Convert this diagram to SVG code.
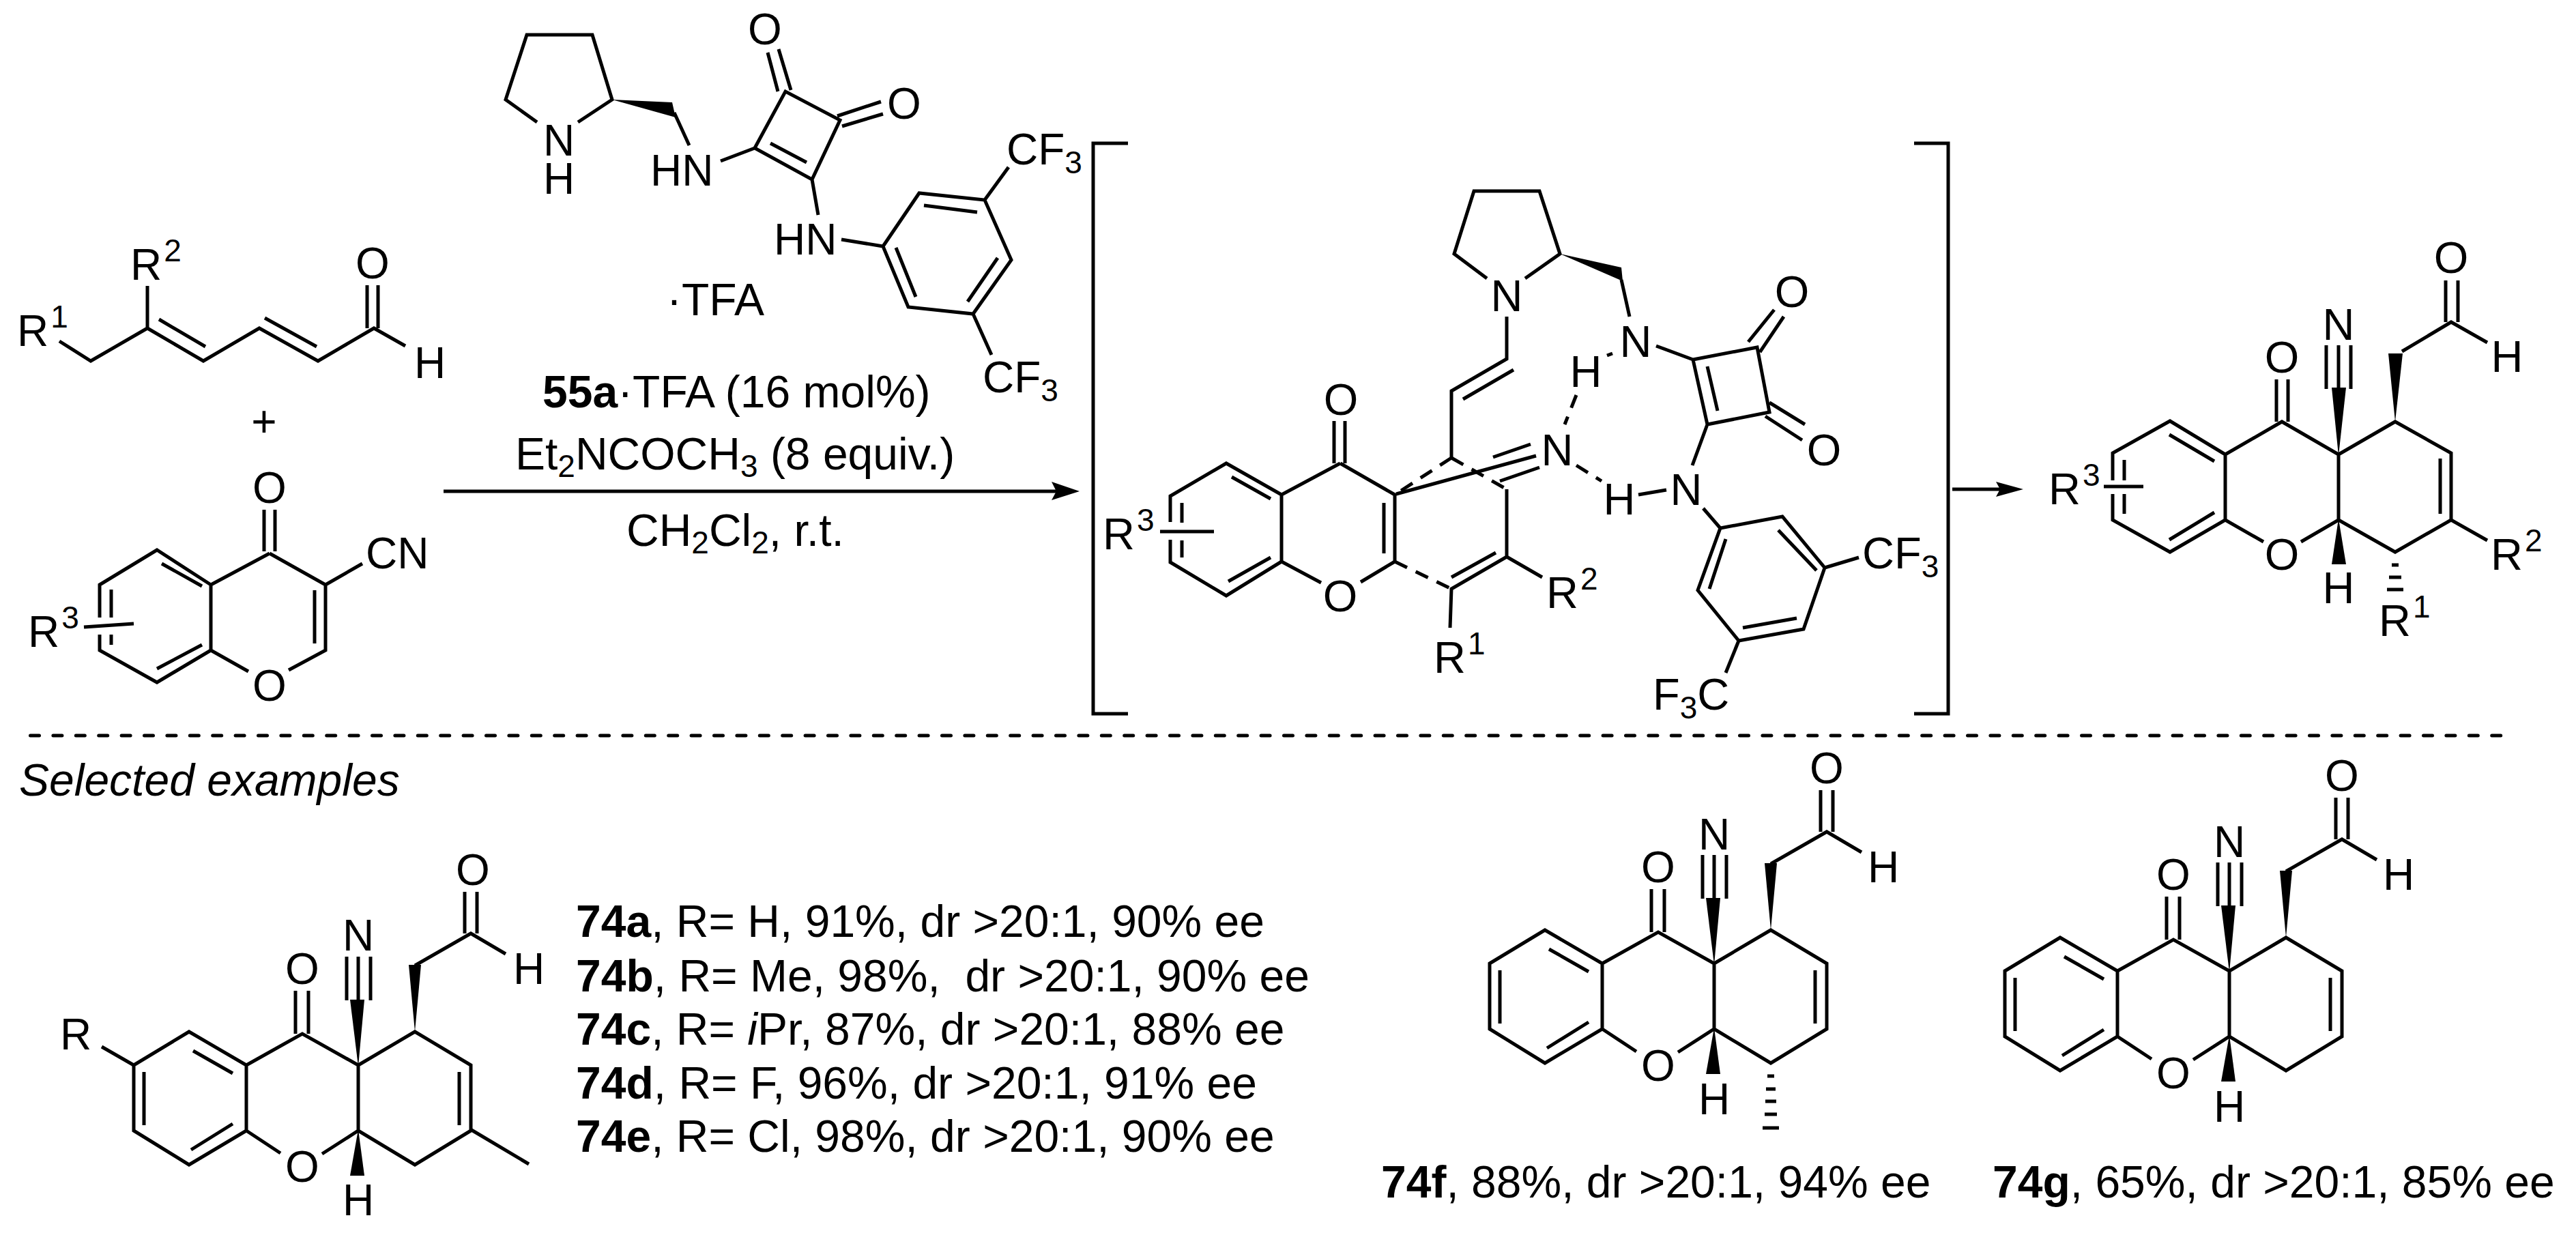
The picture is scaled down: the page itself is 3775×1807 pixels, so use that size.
<svg xmlns="http://www.w3.org/2000/svg" xmlns:xlink="http://www.w3.org/1999/xlink" width="3775" height="1807" viewBox="0 0 3775 1807">
<style>
text{font-family:"Liberation Sans",Arial,sans-serif;fill:#000;white-space:pre}
.a{font-size:64px}
.b{font-size:65px}
.m{text-anchor:middle}
.c{font-size:66px}
.s{font-size:46px}
.w{font-weight:bold}
.l{fill:none;stroke:#000;stroke-width:5;stroke-linejoin:miter;stroke-linecap:butt}
.f{fill:#000;stroke:none}
</style>
<defs>
<g id="skel">
<path class="l" d="M2183 1412L2264 1363L2348 1412L2348 1508L2264 1558L2183 1508ZM2270 1391L2328 1424M2198 1422V1500M2267 1536L2328 1498M2348 1412L2430 1366L2512 1412V1508M2348 1508L2398 1541M2459 1542L2512 1508L2595 1558L2677 1508V1412L2595 1363L2512 1412M2660 1422V1500M2420 1366V1303M2439 1366V1303M2495 1253V1317M2512 1253V1317M2530 1253V1317M2595 1266L2677 1219L2728 1249M2668 1219V1158M2686 1219V1158"/>
<polygon class="f" points="2512,1414 2500,1316 2521,1316"/>
<polygon class="f" points="2595,1363 2586,1265 2604,1265"/>
<polygon class="f" points="2512,1506 2500,1574 2521,1574"/>
</g>
</defs>
<g id="dienal">
<path class="l" d="M87 500L133 529L216 481L298 529L380 481L466 529L548 481L594 507M216 481V419M233 468L301 508M388 466L464 508M538 481V418M554 481V418"/>
<text class="a" x="25" y="507">R<tspan class="s" dx="3" dy="-27">1</tspan></text>
<text class="a" x="191" y="410">R<tspan class="s" dx="3" dy="-27">2</tspan></text>
<text class="a m" x="546" y="408">O</text>
<text class="a m" x="630" y="554">H</text>
</g>
<g id="plus"><text class="a m" x="387" y="640">+</text></g>
<g id="chromone">
<path class="l" d="M146 905V857L230 806L309 857V953L230 1000L146 953V930M395 811L477 857V953L423 982M364 984L309 953M309 857L395 811M461 865V943M237 826L296 859M163 864V905M163 930V945M230 980L296 945M477 857L531 826M387 808V747M403 808V747M123 919L196 914"/>
<text class="a m" x="395" y="737">O</text>
<text class="a m" x="395" y="1027">O</text>
<text class="a" x="536" y="833">CN</text>
<text class="a" x="41" y="948">R<tspan class="s" dx="3" dy="-27">3</tspan></text>
</g>
<g id="catalyst">
<path class="l" d="M787 179L741 146L772 51H868L897 146L847 179M988 165L1010 213M1056 236L1106 217M1106 217L1151 134L1231 176L1190 263ZM1129 210L1182 238M1125 77L1140 134M1141 72L1159 132M1227 170L1291 149M1234 185L1294 167M1190 263L1199 315M1233 351L1294 361M1294 361L1347 283L1443 293L1482 381L1426 460L1331 450ZM1354 301L1432 311M1462 378L1418 442M1313 363L1342 435M1443 293L1478 245M1426 460L1453 520"/>
<polygon class="f" points="897,146 985,150 990,172"/>
<text class="a m" x="819" y="228">N<tspan x="819" dy="56">H</tspan></text>
<text class="a" x="953" y="272">HN</text>
<text class="a" x="1134" y="373">HN</text>
<text class="a m" x="1121" y="65">O</text>
<text class="a m" x="1325" y="174">O</text>
<text class="a" x="1475" y="241">CF<tspan class="s" dy="13">3</tspan></text>
<text class="a" x="1440" y="575">CF<tspan class="s" dy="13">3</tspan></text>
<text class="c" x="977" y="462">·TFA</text>
</g>
<g id="conditions">
<text class="c" x="795" y="597" font-size="67"><tspan class="w">55a</tspan>·TFA (16 mol%)</text>
<text class="c" x="755" y="688">Et<tspan class="s" dy="11">2</tspan><tspan dy="-11">NCOCH</tspan><tspan class="s" dy="11">3</tspan><tspan dy="-11"> (8 equiv.)</tspan></text>
<text class="c" x="918" y="800">CH<tspan class="s" dy="11">2</tspan><tspan dy="-11">Cl</tspan><tspan class="s" dy="11">2</tspan><tspan dy="-11">, r.t.</tspan></text>
</g>
<g id="connectors">
<path class="l" d="M650 720H1550"/>
<polygon class="f" points="1582,720 1541,706 1548,720 1541,733"/>
<path class="l" d="M2861 717H2932"/>
<polygon class="f" points="2965,717 2925,706 2931,717 2925,728"/>
<path class="l" d="M44.500 1078H3670" stroke-dasharray="13 20.400" style="stroke-linecap:round"/>
</g>
<g id="brackets">
<path class="l" d="M1653 210H1602V1046H1653M2805 210H2855V1046H2805"/>
</g>
<g id="intermediate">
<path class="l" d="M2179 408L2131 372L2160 280H2256L2286 372L2235 408M2376 410L2388 464M2208 464V526L2127 573V671M2218 542L2144 585M1964 679L2044 725V823M2028 737V811M1964 679L1878 725V823L1797 873L1715 824V791M1715 765V727L1797 679L1878 725M1955 679V617M1971 679V617M1805 699L1862 731M1732 737V766M1732 792V817M1800 852L1862 817M1878 823L1936 854M1994 853L2044 823M1700 779H1779M2208 717V816L2127 863L2125 920M2192 810L2127 846M2208 816L2260 846M2046 724L2251 668M2188 670L2243 651M2198 705L2256 685M2401 725L2442 718M2355 521L2363 518M2480 682L2502 622M2502 622L2481 527L2575 509L2593 604ZM2427 507L2481 527M2502 537L2517 602M2562 501L2600 454M2579 516L2614 464M2593 590L2645 622M2587 610L2641 645M2496 745L2521 774M2521 774L2612 757L2674 832L2643 922L2548 939L2488 865ZM2606 777L2662 836M2633 906L2554 920M2505 863L2529 790M2674 832L2724 817M2548 939L2529 986"/>
<path class="l" stroke-dasharray="20 14" d="M2127 671L2044 725M2127 671L2208 717M2044 823L2127 863M2310 579L2293 622M2310 682L2347 705"/>
<polygon class="f" points="2286,372 2376,392 2378,412"/>
<text class="b m" x="2208" y="456">N</text>
<text class="b m" x="2397" y="523">N</text>
<text class="b m" x="2324" y="567">H</text>
<text class="b m" x="2282" y="682">N</text>
<text class="b m" x="2373" y="754">H</text>
<text class="b m" x="2471" y="740">N</text>
<text class="b m" x="2626" y="450">O</text>
<text class="b m" x="2673" y="682">O</text>
<text class="b m" x="1965" y="608">O</text>
<text class="b m" x="1964" y="896">O</text>
<text class="b" x="1616" y="805">R<tspan class="s" dx="3" dy="-27">3</tspan></text>
<text class="b" x="2101" y="986">R<tspan class="s" dx="3" dy="-27">1</tspan></text>
<text class="b" x="2266" y="891">R<tspan class="s" dx="3" dy="-27">2</tspan></text>
<text class="b" x="2729" y="833">CF<tspan class="s" dy="13">3</tspan></text>
<text class="b" x="2422" y="1040">F<tspan class="s" dy="13">3</tspan><tspan dy="-13">C</tspan></text>
</g>
<g id="product">
<path class="l" d="M3096 704V664L3180 617L3261 666V762L3180 809L3096 762V724M3179 637L3245 676M3113 674V704M3113 724V753M3179 791L3245 751M3261 666L3344 618L3427 666V762M3261 762L3317 794M3372 794L3427 762L3510 809L3592 762V664L3510 618L3427 666M3576 672V753M3336 618V556M3353 618V556M3409 506V570M3427 506V570M3445 506V570M3520 515L3592 472L3645 502M3584 472V411M3602 472V411M3592 762L3645 792M3083 713H3141"/>
<polygon class="f" points="3427,668 3417,568 3438,568"/>
<polygon class="f" points="3510,618 3500,518 3521,518"/>
<polygon class="f" points="3427,760 3417,827 3438,827"/>
<path class="l" d="M3505 828H3515M3501 846H3519M3498 864H3522"/>
<text class="b m" x="3427" y="498">N</text>
<text class="b m" x="3592" y="400">O</text>
<text class="b m" x="3344" y="546">O</text>
<text class="b m" x="3344" y="835">O</text>
<text class="b m" x="3674" y="545">H</text>
<text class="b m" x="3427" y="884">H</text>
<text class="b" x="3650" y="835">R<tspan class="s" dx="3" dy="-27">2</tspan></text>
<text class="b" x="3486" y="932">R<tspan class="s" dx="3" dy="-27">1</tspan></text>
<text class="b" x="3002" y="739">R<tspan class="s" dx="3" dy="-27">3</tspan></text>
</g>
<g id="examples-title"><text class="c" font-style="italic" x="28" y="1166">Selected examples</text></g>
<g id="mol-74a">
<use href="#skel" xlink:href="#skel" transform="translate(-1987 149)"/>
<path class="l" d="M149 1534L196 1561M691 1656L775 1706"/>
<text class="a" x="88" y="1538">R</text>
<text class="a m" x="693" y="1297">O</text>
<text class="a m" x="775" y="1442">H</text>
<text class="a m" x="525" y="1393">N</text>
<text class="a m" x="443" y="1442">O</text>
<text class="a m" x="443" y="1732">O</text>
<text class="a m" x="525" y="1781">H</text>
</g>
<g id="legend-74a-e">
<text class="c" x="844" y="1373"><tspan class="w">74a</tspan>, R= H, 91%, dr &gt;20:1, 90% ee</text>
<text class="c" x="844" y="1453"><tspan class="w">74b</tspan>, R= Me, 98%,  dr &gt;20:1, 90% ee</text>
<text class="c" x="844" y="1531"><tspan class="w">74c</tspan>, R= <tspan font-style="italic">i</tspan>Pr, 87%, dr &gt;20:1, 88% ee</text>
<text class="c" x="844" y="1610"><tspan class="w">74d</tspan>, R= F, 96%, dr &gt;20:1, 91% ee</text>
<text class="c" x="844" y="1688"><tspan class="w">74e</tspan>, R= Cl, 98%, dr &gt;20:1, 90% ee</text>
</g>
<g id="mol-74f">
<use href="#skel" xlink:href="#skel"/>
<path class="l" d="M2590 1577H2600M2588 1596H2602M2587 1614H2603M2586 1633H2604M2583 1653H2607"/>
<text class="a m" x="2512" y="1245">N</text>
<text class="a m" x="2677" y="1148">O</text>
<text class="a m" x="2430" y="1293">O</text>
<text class="a m" x="2760" y="1293">H</text>
<text class="a m" x="2430" y="1584">O</text>
<text class="a m" x="2512" y="1633">H</text>
<text class="c" x="2024" y="1755"><tspan class="w">74f</tspan>, 88%, dr &gt;20:1, 94% ee</text>
</g>
<g id="mol-74g">
<use href="#skel" xlink:href="#skel" transform="translate(755 11)"/>
<text class="a m" x="3267" y="1256">N</text>
<text class="a m" x="3432" y="1159">O</text>
<text class="a m" x="3185" y="1304">O</text>
<text class="a m" x="3515" y="1304">H</text>
<text class="a m" x="3185" y="1595">O</text>
<text class="a m" x="3267" y="1644">H</text>
<text class="c" x="2920" y="1755"><tspan class="w">74g</tspan>, 65%, dr &gt;20:1, 85% ee</text>
</g>
</svg>
